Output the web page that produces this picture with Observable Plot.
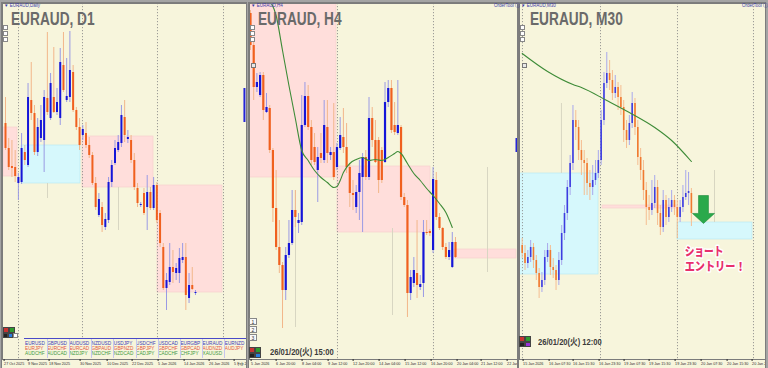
<!DOCTYPE html>
<html>
<head>
<meta charset="utf-8">
<script src="https://cdn.jsdelivr.net/npm/d3@7"></script>
<script src="https://cdn.jsdelivr.net/npm/@observablehq/plot@0.6"></script>
<style>
  html, body { margin:0; padding:0; background:#a4a4a4; }
  #root { position:relative; width:768px; height:368px; background:#a4a4a4; overflow:hidden;
          font-family:"Liberation Sans", Arial, sans-serif; }
  .panel { position:absolute; top:3px; height:365px; background:#f7f5dc; overflow:hidden;
           box-shadow: 0 0 0 1px #7d7d7d; }
  .panel svg, .sub svg { position:absolute; left:0; top:0; }
  .sub { position:absolute; z-index:4; }
  .ov { position:absolute; white-space:nowrap; z-index:5; line-height:1; }
  .title { font-size:18px; font-weight:bold; color:#6a6a6a; transform:scaleX(0.76); transform-origin:0 0; }
  .tiny { font-size:4.5px; color:#3a3aa8; }
  .date { font-size:9.5px; font-weight:bold; color:#3a3a3a; transform:scaleX(0.8); transform-origin:0 0;
          font-family:"Liberation Sans","Noto Sans CJK JP",sans-serif; }
  .btn { position:absolute; z-index:5; box-sizing:border-box; }
</style>
</head>
<body>
<div id="root"></div>
<script>
// ================= DATA =================
// EURAUD D1 (candles 27 Oct 2025 .. 22 Jan 2026)
const d1Open  = [1.7754,1.7704,1.7668,1.7666,1.7634,1.7636,1.7696,1.7670,1.7800,1.7774,
                 1.7696,1.7724,1.7720,1.7804,1.7764,1.7806,1.7776,1.7764,1.7870,1.7800,
                 1.7806,1.7856,1.7780,1.7746,1.7730,1.7734,1.7710,1.7690,1.7634,1.7570,
                 1.7586,1.7546,1.7560,1.7636,1.7674,1.7700,1.7714,1.7766,1.7722,1.7720,
                 1.7680,1.7624,1.7590,1.7614,1.7586,1.7616,1.7584,1.7630,1.7574,1.7506,
                 1.7424,1.7436,1.7466,1.7454,1.7454,1.7480,1.7486,1.7404,1.7430,1.7414];
const d1High  = [1.7806,1.7724,1.7720,1.7700,1.7654,1.7734,1.7710,1.7834,1.7876,1.7790,
                 1.7764,1.7790,1.7820,1.7936,1.7854,1.7906,1.7824,1.7904,1.7936,1.7884,
                 1.7938,1.7870,1.7786,1.7764,1.7750,1.7756,1.7726,1.7696,1.7646,1.7614,
                 1.7596,1.7574,1.7646,1.7680,1.7720,1.7730,1.7790,1.7800,1.7740,1.7730,
                 1.7694,1.7634,1.7596,1.7624,1.7650,1.7626,1.7646,1.7636,1.7580,1.7514,
                 1.7454,1.7514,1.7500,1.7474,1.7504,1.7514,1.7514,1.7454,1.7466,1.7420];
const d1Low   = [1.7700,1.7660,1.7646,1.7636,1.7600,1.7632,1.7670,1.7666,1.7760,1.7690,
                 1.7688,1.7716,1.7656,1.7770,1.7760,1.7774,1.7770,1.7750,1.7816,1.7796,
                 1.7796,1.7776,1.7740,1.7700,1.7720,1.7704,1.7684,1.7630,1.7580,1.7566,
                 1.7536,1.7540,1.7554,1.7626,1.7670,1.7696,1.7706,1.7716,1.7714,1.7674,
                 1.7620,1.7586,1.7586,1.7570,1.7540,1.7580,1.7580,1.7554,1.7506,1.7420,
                 1.7380,1.7430,1.7434,1.7440,1.7434,1.7474,1.7380,1.7394,1.7420,1.7410];
const d1Close = [1.7704,1.7666,1.7664,1.7648,1.7646,1.7704,1.7680,1.7806,1.7774,1.7696,
                 1.7746,1.7760,1.7806,1.7776,1.7834,1.7776,1.7796,1.7876,1.7820,1.7808,
                 1.7860,1.7780,1.7746,1.7710,1.7742,1.7710,1.7690,1.7634,1.7586,1.7602,
                 1.7550,1.7562,1.7636,1.7670,1.7704,1.7716,1.7770,1.7730,1.7726,1.7680,
                 1.7626,1.7594,1.7592,1.7574,1.7616,1.7584,1.7630,1.7560,1.7514,1.7424,
                 1.7440,1.7466,1.7456,1.7464,1.7484,1.7486,1.7410,1.7430,1.7422,1.7416];
const d1TickIdx    = [-0.62, 6.83, 13.35, 22.98, 31.37, 39.13, 47.20, 55.28, 63.04, 70.81];
const d1TickLabels = ["27 Oct 2025","9 Nov 2025","18 Nov 2025","30 Nov 2025","10 Dec 2025",
                      "22 Dec 2025","5 Jan 2026","14 Jan 2026","26 Jan 2026","5 Feb 2026"];
const d1Separators = [4.04, 23.91, 47.20, 67.70];
const d1Boxes   = [[-0.62, 3.73, 1.7746, 1.7648, "pink"],
                   [4.97, 23.29, 1.7710, 1.7634, "cyan"],
                   [23.91, 45.96, 1.7728, 1.7626, "pink"],
                   [47.20, 67.39, 1.7630, 1.7416, "pink"]];
const d1Faint   = [[13.04, 1.7634, 1.7604], [35.09, 1.7626, 1.7540]];
const d1Markers = [[74.2, 1.7824, 1.7756]];

// EURAUD H4 (5 Jan 2026 .. 20 Jan 2026 15:00)
const h4Open  = [1.7587,1.7555,1.7513,1.7505,1.7525,1.7488,1.7492,1.7450,1.7392,1.7353,
                 1.7335,1.7310,1.7345,1.7357,1.7390,1.7377,1.7378,1.7475,1.7504,1.7473,
                 1.7453,1.7430,1.7447,1.7440,1.7473,1.7445,1.7448,1.7433,1.7452,1.7463,
                 1.7453,1.7433,1.7407,1.7393,1.7408,1.7423,1.7443,1.7423,1.7482,1.7460,
                 1.7460,1.7450,1.7438,1.7498,1.7512,1.7475,1.7467,1.7473,1.7403,1.7395,
                 1.7307,1.7317,1.7327,1.7313,1.7317,1.7368,1.7369,1.7350,1.7420,1.7383,
                 1.7372,1.7353,1.7343,1.7333,1.7358];
const h4High  = [1.7590,1.7560,1.7527,1.7528,1.7528,1.7507,1.7495,1.7452,1.7430,1.7380,
                 1.7338,1.7353,1.7380,1.7410,1.7410,1.7387,1.7505,1.7518,1.7515,1.7480,
                 1.7467,1.7453,1.7467,1.7500,1.7500,1.7453,1.7497,1.7457,1.7483,1.7492,
                 1.7477,1.7437,1.7420,1.7415,1.7440,1.7447,1.7450,1.7503,1.7493,1.7480,
                 1.7463,1.7453,1.7518,1.7520,1.7520,1.7498,1.7520,1.7475,1.7407,1.7400,
                 1.7330,1.7343,1.7380,1.7325,1.7380,1.7380,1.7371,1.7433,1.7428,1.7387,
                 1.7373,1.7357,1.7358,1.7368,1.7363];
const h4Low   = [1.7550,1.7500,1.7508,1.7503,1.7480,1.7487,1.7447,1.7378,1.7350,1.7327,
                 1.7272,1.7300,1.7342,1.7355,1.7373,1.7367,1.7375,1.7473,1.7470,1.7435,
                 1.7435,1.7398,1.7437,1.7437,1.7437,1.7440,1.7420,1.7430,1.7450,1.7447,
                 1.7427,1.7393,1.7390,1.7387,1.7380,1.7368,1.7420,1.7420,1.7453,1.7437,
                 1.7407,1.7417,1.7437,1.7493,1.7467,1.7465,1.7465,1.7400,1.7393,1.7283,
                 1.7300,1.7313,1.7302,1.7310,1.7303,1.7365,1.7364,1.7347,1.7380,1.7370,
                 1.7350,1.7341,1.7340,1.7332,1.7342];
const h4Close = [1.7555,1.7513,1.7518,1.7525,1.7490,1.7493,1.7450,1.7392,1.7353,1.7335,
                 1.7310,1.7345,1.7357,1.7390,1.7383,1.7380,1.7475,1.7504,1.7473,1.7440,
                 1.7438,1.7443,1.7442,1.7475,1.7447,1.7448,1.7423,1.7453,1.7465,1.7453,
                 1.7433,1.7407,1.7405,1.7408,1.7427,1.7443,1.7423,1.7482,1.7460,1.7438,
                 1.7420,1.7420,1.7498,1.7512,1.7470,1.7468,1.7475,1.7403,1.7395,1.7307,
                 1.7323,1.7330,1.7315,1.7316,1.7368,1.7367,1.7367,1.7421,1.7383,1.7372,
                 1.7353,1.7343,1.7350,1.7358,1.7343];
const h4MaIdx = [6,8,10,12,14,16,18,20,22,24,26,27,28,29,31,33,35,37,39,41,43,45,46,47,49,51,53,55,57,59,61,63];
const h4MaVal = [1.7600,1.7585,1.7550,1.7515,1.7482,1.7450,1.7440,1.7430,1.7423,1.7418,1.7413,1.7414,
                 1.7420,1.7428,1.7437,1.7441,1.7443,1.7440,1.7441,1.7440,1.7443,1.7447,1.7449,1.7447,
                 1.7437,1.7427,1.7420,1.7412,1.7405,1.7397,1.7388,1.7373];
const h4TickIdx    = [0, 7.81, 15.92, 24.04, 31.85, 39.96, 48.08, 56.20, 64.31, 71.81, 79.93];
const h4TickLabels = ["5 Jan 2026","6 Jan 20:00","8 Jan 04:00","9 Jan 12:00","12 Jan 20:00","14 Jan 04:00",
                      "15 Jan 12:00","16 Jan 20:00","20 Jan 04:00","21 Jan 12:00","22 Jan 20:00"];
const h4Separators = [27.16, 57.13];
const h4Boxes   = [[-0.31, 26.85, 1.7597, 1.7423, "pink"],
                   [27.16, 56.20, 1.7434, 1.7368, "pink"],
                   [63.69, 83.05, 1.7351, 1.7342, "pink"]];
const h4Faint   = [[14.05, 1.7410, 1.7273], [44.33, 1.7372, 1.7285], [73.99, 1.7433, 1.7328]];
const h4Markers = [[83.05, 1.7462, 1.7448]];

// EURAUD M30 (15 Jan 2026 .. 20 Jan 2026 12:00)
const m30Open  = [1.72775,1.72735,1.72685,1.72715,1.72765,1.72700,1.72635,1.72565,1.72600,1.72715,
                  1.72750,1.72665,1.72650,1.72600,1.72700,1.72835,1.72935,1.73065,1.73185,1.73400,
                  1.73365,1.73250,1.73200,1.73185,1.73085,1.73065,1.73100,1.73135,1.73200,1.73400,
                  1.73585,1.73635,1.73600,1.73535,1.73565,1.73515,1.73465,1.73350,1.73300,1.73385,
                  1.73485,1.73365,1.73215,1.73150,1.73050,1.72965,1.72950,1.72985,1.73065,1.72935,
                  1.72865,1.73000,1.72915,1.72965,1.73000,1.72965,1.72915,1.72965,1.73015,1.73035,
                  1.73035];
const m30High  = [1.72810,1.72775,1.72750,1.72800,1.72785,1.72725,1.72660,1.72640,1.72750,1.72785,
                  1.72775,1.72710,1.72675,1.72740,1.72875,1.72975,1.73100,1.73225,1.73475,1.73450,
                  1.73400,1.73300,1.73250,1.73210,1.73150,1.73175,1.73200,1.73250,1.73450,1.73640,
                  1.73740,1.73700,1.73650,1.73625,1.73590,1.73575,1.73500,1.73400,1.73425,1.73540,
                  1.73510,1.73400,1.73260,1.73200,1.73090,1.73025,1.73100,1.73125,1.73100,1.72975,
                  1.73050,1.73025,1.73010,1.73050,1.73025,1.73000,1.73000,1.73075,1.73150,1.73140,
                  1.73060];
const m30Low   = [1.72710,1.72650,1.72660,1.72690,1.72660,1.72600,1.72510,1.72540,1.72575,1.72690,
                  1.72625,1.72610,1.72550,1.72575,1.72675,1.72800,1.72900,1.73025,1.73150,1.73300,
                  1.73200,1.73125,1.73025,1.73025,1.73000,1.73025,1.73075,1.73110,1.73175,1.73375,
                  1.73560,1.73550,1.73500,1.73510,1.73450,1.73425,1.73290,1.73260,1.73275,1.73360,
                  1.73325,1.73175,1.73100,1.73000,1.72875,1.72900,1.72925,1.72960,1.72875,1.72825,
                  1.72840,1.72875,1.72890,1.72940,1.72925,1.72810,1.72890,1.72940,1.73000,1.72975,
                  1.72870];
const m30Close = [1.72735,1.72685,1.72715,1.72765,1.72700,1.72635,1.72565,1.72600,1.72715,1.72750,
                  1.72665,1.72650,1.72600,1.72700,1.72835,1.72935,1.73065,1.73185,1.73400,1.73365,
                  1.73250,1.73200,1.73185,1.73085,1.73065,1.73100,1.73135,1.73200,1.73400,1.73585,
                  1.73635,1.73600,1.73535,1.73565,1.73515,1.73465,1.73350,1.73300,1.73385,1.73485,
                  1.73365,1.73215,1.73150,1.73050,1.72965,1.72950,1.72985,1.73065,1.72935,1.72865,
                  1.73000,1.72915,1.72965,1.73000,1.72965,1.72915,1.72965,1.73015,1.73035,1.73045,
                  1.72935];
const m30MaIdx = [0, 9, 18, 21, 30, 38, 47, 53, 60];
const m30MaVal = [1.73735,1.73645,1.73580,1.73565,1.73500,1.73440,1.73365,1.73300,1.73195];
const m30TickIdx    = [0.11, 9.33, 17.84, 27.06, 35.92, 44.79, 54.01, 63.23, 72.45, 81.31];
const m30TickLabels = ["15 Jan 2026","16 Jan 07:30","16 Jan 15:30","16 Jan 23:30","19 Jan 07:30",
                       "19 Jan 15:30","19 Jan 23:30","20 Jan 07:30","20 Jan 15:30","20 Jan 23:30"];
const m30Separators = [0.1, 27.77, 55.07, 82.02];
const m30Boxes  = [[-0.96, 27.06, 1.73135, 1.72630, "cyan"],
                   [55.07, 81.67, 1.72890, 1.72805, "cyan"],
                   [28.48, 55.07, 1.72975, 1.72960, "pink"]];
const m30Faint  = [[13.92, 1.73485, 1.73135], [68.20, 1.73150, 1.72890]];
const m30Arrow  = [{i: 64.29, p: 1.72955}];
const m30Notes  = [{i: 57.6, p: 1.72710, text: "ショート\nエントリー！", lens: [39, 61]}];
const sessionStart = [-0.96, 9.43, 16.52, 27.16, 37.23, 43.97, 54.36, 64.40, 71.13, 81.77];
const sessionEnd   = [9.43, 16.52, 27.16, 37.23, 43.97, 54.36, 64.40, 71.13, 81.77, 86.28];
const sessionKind  = ["asia","london","ny","asia","london","ny","asia","london","ny","asia"];

const symRows = [
  ["EURUSD","GBPUSD","AUDUSD","NZDUSD","USDJPY","USDCHF","USDCAD","EURGBP","EURAUD","EURNZD"],
  ["EURJPY","EURCHF","EURCAD","GBPAUD","GBPNZD","GBPJPY","GBPCHF","GBPCAD","AUDNZD","AUDJPY"],
  ["AUDCHF","AUDCAD","NZDJPY","NZDCHF","NZDCAD","CADJPY","CADCHF","CHFJPY","XAUUSD"]
];

// ================= STYLE =================
const PINK = "#ffdedb", CYAN = "#d6f8fc";
const SESSION_COLOR = {asia: "#0b0be6", london: "#dc1a3c", ny: "#6ccfa9"};

const root = document.getElementById("root");

function candleTable(o, h, l, c) {
  return o.map((v, i) => ({i, o: v, h: h[i], l: l[i], c: c[i], up: c[i] >= v}));
}

const arrowSymbol = {
  draw(ctx, size) {
    const s = Math.sqrt(size / Math.PI);
    ctx.moveTo(-0.45 * s, -1.27 * s);
    ctx.lineTo(0.45 * s, -1.27 * s);
    ctx.lineTo(0.45 * s, 0.36 * s);
    ctx.lineTo(1.0 * s, 0.36 * s);
    ctx.lineTo(0, 1.27 * s);
    ctx.lineTo(-1.0 * s, 0.36 * s);
    ctx.lineTo(-0.45 * s, 0.36 * s);
    ctx.closePath();
  }
};

function panelPlot(cfg) {
  const data = candleTable(cfg.open, cfg.high, cfg.low, cfg.close);
  const labelOf = new Map(cfg.ticks.map((t, k) => [t, cfg.tickLabels[k]]));
  const marks = [
    Plot.rect(cfg.boxes, {x1: d => d[0], x2: d => d[1], y1: d => d[2], y2: d => d[3],
      fill: d => d[4] === "pink" ? PINK : CYAN,
      stroke: d => d[4] === "pink" ? "#f6d2cf" : "#b9ecf2", strokeWidth: 0.7, clip: true}),
    Plot.ruleX(cfg.faint, {x: d => d[0], y1: d => d[1], y2: d => d[2], stroke: "#d8d6c2", clip: true}),
    Plot.ruleX(cfg.separators, {stroke: "#858585", strokeDasharray: "1.2,1.8", strokeWidth: 0.8}),
    Plot.ruleX(data, {x: "i", y1: "l", y2: "h", clip: true, strokeWidth: 1,
      stroke: d => d.up ? cfg.wickUp : cfg.wickDn}),
    Plot.ruleX(data, {x: "i", y1: "o", y2: "c", clip: true, strokeWidth: cfg.bodyW,
      stroke: d => d.up ? cfg.bodyUp : cfg.bodyDn})
  ];
  if (cfg.maIdx) {
    const ma = cfg.maIdx.map((x, k) => ({x, y: cfg.maVal[k]}));
    marks.push(Plot.line(ma, {x: "x", y: "y", stroke: "#3d8b37", strokeWidth: 1.1, curve: "monotone-x", clip: true}));
  }
  if (cfg.markers) {
    marks.push(Plot.ruleX(cfg.markers, {x: d => d[0], y1: d => d[1], y2: d => d[2], stroke: "#2424d8", strokeWidth: 2}));
  }
  if (cfg.arrow) {
    marks.push(Plot.dot(cfg.arrow, {x: "i", y: "p", r: 11, symbol: arrowSymbol,
      fill: "#2aa94b", stroke: "#1f8c3c", strokeWidth: 0.6}));
  }
  if (cfg.notes) {
    marks.push(Plot.text(cfg.notes, {x: "i", y: "p", text: "text", textAnchor: "start", lineHeight: 1.25,
      fill: "#e8306c", stroke: "white", strokeWidth: 3, paintOrder: "stroke",
      fontSize: 12, fontWeight: 900, fontFamily: "'Noto Sans CJK JP', sans-serif"}));
  }
  marks.push(Plot.frame({stroke: "#7b7b7b", strokeWidth: 1}));
  marks.push(Plot.axisX(cfg.ticks, {anchor: "bottom", tickSize: 2, tickPadding: 1,
    tickFormat: d => labelOf.get(d), textAnchor: "start", fontSize: 3.7, dx: 0.6}));
  return Plot.plot({
    width: cfg.width, height: 365,
    marginTop: 0, marginLeft: 0, marginRight: 0, marginBottom: 9,
    x: {domain: cfg.xDomain},
    y: {domain: cfg.yDomain, axis: null},
    style: {background: "none", color: "#2a2a2a", fontFamily: "'Liberation Sans', Arial, sans-serif", overflow: "hidden"},
    marks
  });
}

const cfgs = [
  {left: 2, width: 244, xDomain: [-0.932, 74.84], yDomain: [1.7282, 1.7994],
   open: d1Open, high: d1High, low: d1Low, close: d1Close, bodyW: 2,
   bodyUp: "#1515d8", bodyDn: "#f0601e", wickUp: "#9a9ae4", wickDn: "#f2b68a",
   ticks: d1TickIdx, tickLabels: d1TickLabels, separators: d1Separators,
   boxes: d1Boxes, faint: d1Faint, markers: d1Markers},
  {left: 249, width: 268, xDomain: [-0.312, 83.36], yDomain: [1.7241, 1.7597],
   open: h4Open, high: h4High, low: h4Low, close: h4Close, bodyW: 2.2,
   bodyUp: "#1515d8", bodyDn: "#f0601e", wickUp: "#9a9ae4", wickDn: "#f2b68a",
   ticks: h4TickIdx, tickLabels: h4TickLabels, separators: h4Separators,
   boxes: h4Boxes, faint: h4Faint, markers: h4Markers, maIdx: h4MaIdx, maVal: h4MaVal},
  {left: 519, width: 246, xDomain: [-0.957, 86.28], yDomain: [1.72205, 1.73985],
   open: m30Open, high: m30High, low: m30Low, close: m30Close, bodyW: 1.6,
   bodyUp: "#3d3de0", bodyDn: "#f07a30", wickUp: "#a8a8ec", wickDn: "#f5be92",
   ticks: m30TickIdx, tickLabels: m30TickLabels, separators: m30Separators,
   boxes: m30Boxes, faint: m30Faint, maIdx: m30MaIdx, maVal: m30MaVal,
   arrow: m30Arrow, notes: m30Notes}
];

cfgs.forEach(cfg => {
  const div = document.createElement("div");
  div.className = "panel";
  div.style.left = cfg.left + "px";
  div.style.width = cfg.width + "px";
  const svg = panelPlot(cfg);
  div.appendChild(svg);
  root.appendChild(div);
  if (cfg.notes) {
    const lens = cfg.notes[0].lens;
    d3.select(svg).selectAll('g[aria-label="text"] tspan').each(function(_, k) {
      if (lens[k]) d3.select(this).attr("textLength", lens[k]).attr("lengthAdjust", "spacingAndGlyphs");
    });
  }
});

// M30 session indicator sub-window
{
  const sessions = sessionStart.map((s, k) => ({s, e: sessionEnd[k], kind: sessionKind[k]}));
  const sub = document.createElement("div");
  sub.className = "sub";
  sub.style.left = "519px"; sub.style.top = "346px";
  sub.appendChild(Plot.plot({
    width: 246, height: 12, margin: 0, marginTop: 1, marginBottom: 1,
    x: {domain: cfgs[2].xDomain, axis: null},
    style: {background: "#f7f5dc", overflow: "hidden"},
    marks: [
      Plot.barX(sessions, {x1: "s", x2: "e", fill: d => SESSION_COLOR[d.kind]}),
      Plot.frame({stroke: "#3a3ac0", strokeWidth: 1})
    ]
  }));
  root.appendChild(sub);
}

// ================= OVERLAYS (UI text) =================
function ov(text, left, top, cls, extra) {
  const e = document.createElement("div");
  e.className = "ov " + (cls || "");
  e.style.left = left + "px"; e.style.top = top + "px";
  e.textContent = text;
  if (extra) Object.assign(e.style, extra);
  root.appendChild(e);
  return e;
}
function btn(left, top, w, h, bg, border, label) {
  const e = document.createElement("div");
  e.className = "btn";
  Object.assign(e.style, {left: left + "px", top: top + "px", width: w + "px", height: h + "px",
    background: bg, border: "0.6px solid " + (border || "#777"), fontSize: "5px", lineHeight: (h - 1) + "px",
    textAlign: "center", color: "#333"});
  if (label) e.textContent = label;
  root.appendChild(e);
}

ov("EURAUD, D1", 11, 9.7, "title");
ov("EURAUD, H4", 258, 9.7, "title");
ov("EURAUD, M30", 530, 9.7, "title");
ov("▼ EURAUD,Daily", 4, 4, "tiny");
ov("▼ EURAUD,H4", 251, 4, "tiny");
ov("▼ EURAUD,M30", 521, 4, "tiny");
ov("OrderTool ⓘ", 494, 4, "tiny");
ov("OrderTool ⓘ", 742, 4, "tiny");
ov("26/01/20(火) 15:00", 270, 346.7, "date");
ov("26/01/20(火) 12:00", 538, 336.7, "date");

// scroll buttons and markers
[[3, 25], [250, 25], [520, 25]].forEach(([x, y]) => {
  btn(x, y, 5, 5, "#fff", "#888", "");
  btn(x, y + 6, 5, 5, "#fff", "#888", "");
  btn(x, y + 12, 5, 5, "#fff", "#888", "");
});
btn(251, 63, 5, 5, "#e8e8e8", "#777", "");
btn(522, 63, 5, 5, "#e8e8e8", "#777", "");

// D1 buttons
btn(3, 327, 6, 6, "#c83232", "#444"); btn(9, 327, 6, 6, "#2e9a2e", "#444");
btn(3, 333, 5, 5, "#222", "#444"); btn(8, 333, 5, 5, "#2a7de0", "#444"); btn(13, 333, 5, 5, "#fff", "#888");
// H4 buttons
btn(249, 318, 8, 7, "#fafafa", "#888", "1");
btn(249, 326, 8, 7, "#fafafa", "#888", "2");
btn(249, 334, 8, 7, "#fafafa", "#888", "3");
btn(249, 347, 6, 6, "#c83232", "#444"); btn(255, 347, 6, 6, "#2e9a2e", "#444");
btn(249, 353, 6, 5, "#222", "#444"); btn(255, 353, 6, 5, "#2a7de0", "#444");
// M30 buttons
btn(519, 336, 6, 6, "#c83232", "#444"); btn(525, 336, 6, 6, "#2e9a2e", "#444");
btn(519, 342, 6, 5, "#222", "#444"); btn(525, 342, 6, 5, "#9a32d8", "#444");

// D1 symbol list
{
  const box = document.createElement("div");
  Object.assign(box.style, {position: "absolute", left: "24px", top: "338px", width: "222px", height: "20px",
    background: "#f7f5dc", borderTop: "1px solid #4a4ac8", zIndex: 4});
  root.appendChild(box);
  const colors = ["#3d3db8", "#e4573e", "#3f9a3f"];
  symRows.forEach((row, r) => {
    row.forEach((name, j) => {
      ov(name, 25 + 22.2 * j, 341.6 + r * 5.3, "", {fontSize: "4.7px", color: colors[r]});
    });
  });
  for (let j = 1; j < 10; j++) {
    const s = document.createElement("div");
    Object.assign(s.style, {position: "absolute", left: (24.5 + 22.2 * j) + "px", top: "339px", width: "0.6px",
      height: "19px", background: "#c6c6ee", zIndex: 5});
    root.appendChild(s);
  }
}
</script>
</body>
</html>
